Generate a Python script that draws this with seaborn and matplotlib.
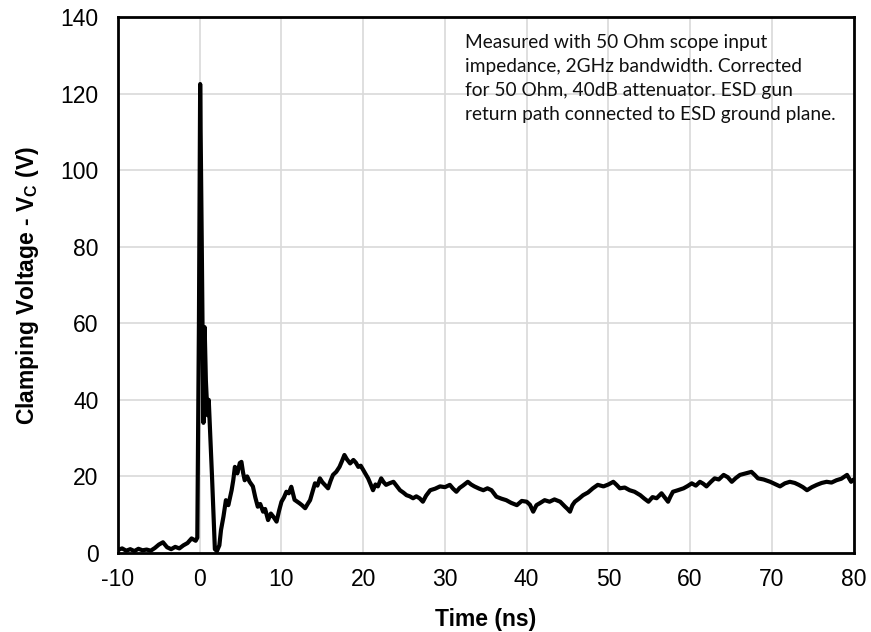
import numpy as np
import pandas as pd
import matplotlib
matplotlib.use("Agg")
import matplotlib.pyplot as plt
import seaborn as sns

# pre-pulse baseline (ns, V)
t_pre = [-10, -9.5, -9, -8.5, -8, -7.5, -7, -6.5, -6, -5.5,
         -5, -4.5, -4, -3.5, -3, -2.5, -2, -1.5, -1, -0.5]
v_pre = [0.8, 1.2, 0.6, 1.0, 0.5, 1.1, 0.7, 0.9, 0.6, 1.3,
         2.2, 2.8, 1.5, 1.0, 1.6, 1.2, 2.0, 2.6, 3.8, 3.2]

# ESD spike
t_spike = [-0.3, -0.1, 0.05, 0.25, 0.45, 0.6, 0.75, 0.95, 1.1, 1.5, 1.85, 2.1, 2.4]
v_spike = [4.0, 60, 122.5, 80, 34, 59, 45, 36, 40, 20, 1.0, 0.5, 2.0]

# ringing / recovery
t_ring = [2.6, 2.9, 3.2, 3.5, 3.9, 4.1, 4.3, 4.6, 4.9, 5.1, 5.3, 5.5, 5.8, 6.1, 6.5,
          6.8, 7.1, 7.4, 7.75, 8.0, 8.36, 8.7, 9.0, 9.4, 9.7, 10.0, 10.3, 10.6, 10.9,
          11.2, 11.6, 12.2, 12.5, 12.9, 13.2, 13.5, 13.8, 14.1, 14.4, 14.7, 15.0, 15.3,
          15.7, 16.0, 16.3, 16.7, 17.1, 17.4, 17.7, 18.0, 18.4, 18.8, 19.1, 19.4, 19.7,
          20.0, 20.3, 20.6, 20.9, 21.2, 21.5, 21.8, 22.2, 22.5, 22.8, 23.2, 23.7, 24.1,
          24.5, 24.9, 25.3, 25.7, 26.1, 26.5, 26.9, 27.3, 27.7, 28.2, 28.8, 29.4, 30.0]
v_ring = [6, 9.5, 13.8, 12.5, 16.4, 19, 22.5, 20.8, 23.5, 23.8, 21, 19, 20, 18.6, 17.4,
          14.5, 12.1, 12.8, 10.8, 11.5, 8.6, 10.3, 9.5, 8.2, 11, 13.4, 14.5, 16, 15.6,
          17.3, 13.9, 13, 12.5, 11.7, 12.8, 13.8, 16, 18.2, 17.6, 19.5, 18.5, 17.8,
          16.9, 18.8, 20.4, 21.2, 22.5, 24, 25.6, 24.5, 23.4, 24.3, 23.6, 22.5, 22.8,
          21.7, 20.6, 19.5, 18, 16.4, 17.9, 17.4, 19.5, 18.5, 17.8, 18.2, 18.6, 17.5,
          16.4, 15.8, 15.1, 14.8, 14.3, 14.8, 14.3, 13.4, 15, 16.4, 16.8, 17.4, 17.2]

# tail
t_tail = [30.6, 31.0, 31.4, 31.8, 32.2, 32.8, 33.2, 33.6, 34.2, 34.7, 35.2, 35.7, 36.3,
          36.9, 37.5, 38.1, 38.8, 39.4, 40.0, 40.4, 40.8, 41.2, 41.6, 42.2, 42.8, 43.4,
          44.1, 44.7, 45.0, 45.3, 45.6, 45.9, 46.4, 46.9, 47.5, 48.1, 48.7, 49.4, 50.0,
          50.6, 51.0, 51.4, 52.0, 52.6, 53.2, 53.9, 54.4, 54.9, 55.4, 55.9, 56.5, 56.9,
          57.3, 57.6, 57.9, 58.5, 59.2, 59.7, 60.2, 60.7, 61.2, 61.6, 62.0, 62.5, 63.0,
          63.5, 64.1, 64.6, 65.1, 65.6, 66.1, 66.8, 67.5, 67.9, 68.3, 69.0, 69.8, 70.4,
          71.0, 71.6, 72.2, 72.8, 73.3, 73.8, 74.3, 74.9, 75.5, 76.1, 76.7, 77.3, 77.9,
          78.5, 79.2, 79.7, 80.0]
v_tail = [17.8, 16.8, 16, 17, 17.6, 18.6, 17.9, 17.4, 16.8, 16.4, 16.9, 16.4, 14.7,
          14.2, 13.8, 13.1, 12.5, 13.6, 13.4, 12.6, 10.8, 12.5, 13, 13.8, 13.4, 14,
          13.4, 12.1, 11.5, 10.8, 12.5, 13.4, 14.2, 15.1, 15.8, 16.9, 17.8, 17.4, 17.9,
          18.6, 17.8, 16.9, 17.1, 16.4, 16, 15.1, 14.2, 13.4, 14.6, 14.3, 15.6, 14.5,
          13.4, 14.8, 16, 16.4, 16.9, 17.5, 18.2, 17.6, 18.6, 18.1, 17.4, 18.5, 19.5,
          19.2, 20.4, 19.8, 18.6, 19.6, 20.4, 20.8, 21.2, 20.4, 19.5, 19.2, 18.6, 18,
          17.4, 18.2, 18.6, 18.3, 17.8, 17.2, 16.4, 17.2, 17.8, 18.3, 18.6, 18.4, 19,
          19.4, 20.4, 18.6, 19.2]

x_ticks = [-10, 0, 10, 20, 30, 40, 50, 60, 70, 80]
y_ticks = [0, 20, 40, 60, 80, 100, 120, 140]

note = ("Measured with 50 Ohm scope input\n"
        "impedance, 2GHz bandwidth. Corrected\n"
        "for 50 Ohm, 40dB attenuator. ESD gun\n"
        "return path connected to ESD ground plane.")

df = pd.DataFrame({
    "time": t_pre + t_spike + t_ring + t_tail,
    "vc": v_pre + v_spike + v_ring + v_tail,
})

sns.set_theme(style="whitegrid")
plt.rcParams["font.family"] = ["Liberation Sans", "DejaVu Sans"]
plt.rcParams["mathtext.fontset"] = "custom"
plt.rcParams["mathtext.rm"] = "Liberation Sans"
plt.rcParams["mathtext.bf"] = "Liberation Sans:bold"
plt.rcParams["axes.unicode_minus"] = False

fig = plt.figure(figsize=(8.71, 6.32), dpi=100)
ax = fig.add_axes([0.1355, 0.125, 0.8445, 0.848])

sns.lineplot(data=df, x="time", y="vc", color="black", linewidth=3.0,
             estimator=None, sort=False, ax=ax)

ax.set_xlim(-10, 80)
ax.set_ylim(0, 140)
ax.set_xticks(x_ticks)
ax.set_yticks(y_ticks)
ax.tick_params(axis="both", length=0, labelsize=16.5, colors="black")
ax.tick_params(axis="y", pad=14)
ax.tick_params(axis="x", pad=11)
ax.grid(True, color="#d9d9d9", linewidth=1.2)
for sp in ax.spines.values():
    sp.set_color("black")
    sp.set_linewidth(2.0)

ax.set_xlabel("Time (ns)", fontsize=16.5, fontweight="bold", color="black", labelpad=12)
ax.set_ylabel(r"Clamping Voltage - V$_{\mathbf{C}}$ (V)", fontsize=16.5,
              fontweight="bold", color="black", labelpad=14)

ax.text(0.472, 0.968, note, transform=ax.transAxes, family=["Lato", "DejaVu Sans"],
        fontsize=13.8, va="top", ha="left", linespacing=1.5, color="#111111")

fig.savefig("out.png", dpi=100)
